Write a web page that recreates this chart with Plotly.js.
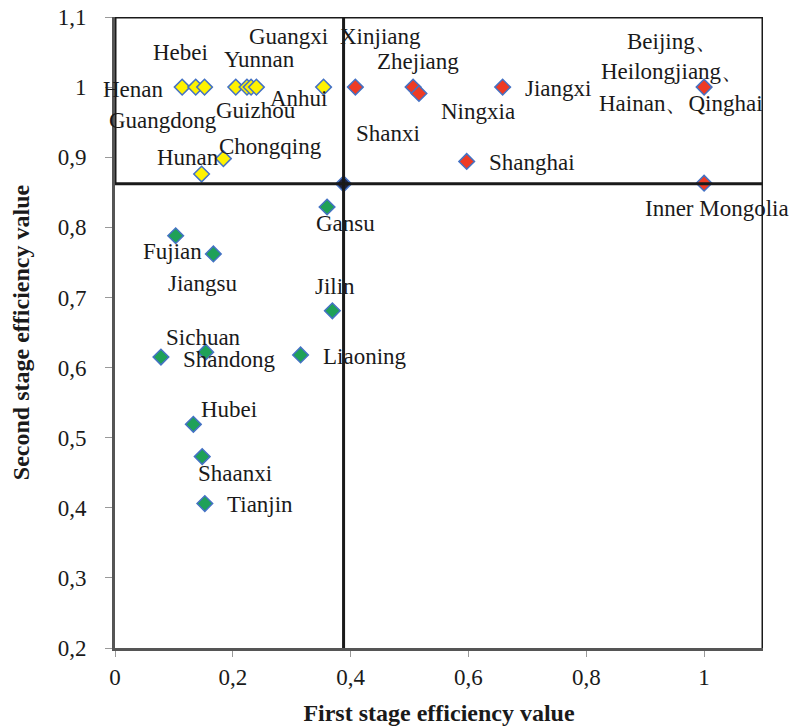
<!DOCTYPE html>
<html>
<head>
<meta charset="utf-8">
<script src="https://cdn.plot.ly/plotly-3.0.1.min.js"></script>
<style>html,body{margin:0;padding:0;background:#fff;}#chart{width:794px;height:726px;}</style>
</head>
<body>
<div id="chart"></div>
<script>
// Yellow group (upper-left quadrant)
const yellowX = [0.114, 0.137, 0.152, 0.205, 0.224, 0.231, 0.240, 0.354, 0.184, 0.147];
const yellowY = [1.0, 1.0, 1.0, 1.0, 1.0, 1.0, 1.0, 1.0, 0.898, 0.876];
// Red group (upper-right quadrant)
const redX = [0.408, 0.506, 0.516, 0.658, 0.597, 1.0, 1.0];
const redY = [1.0, 1.0, 0.991, 1.0, 0.894, 1.0, 0.863];
// Green group (lower-left quadrant)
const greenX = [0.360, 0.103, 0.167, 0.369, 0.078, 0.154, 0.315, 0.133, 0.148, 0.1525];
const greenY = [0.829, 0.788, 0.762, 0.681, 0.615, 0.622, 0.618, 0.519, 0.473, 0.406];
// Mean (quadrant dividing point)
const meanX = [0.388];
const meanY = [0.862];

// Province labels
const labelText = ["Hebei","Yunnan","Guangxi","Xinjiang","Henan","Anhui","Guizhou","Guangdong","Chongqing","Hunan",
  "Shanxi","Zhejiang","Ningxia","Jiangxi","Beijing、","Heilongjiang、","Hainan、Qinghai","Shanghai","Inner Mongolia",
  "Gansu","Fujian","Jiangsu","Jilin","Sichuan","Shandong","Liaoning","Hubei","Shaanxi","Tianjin"];
const labelX = [0.112,0.2446,0.2938,0.450,0.031,0.312,0.240,0.0819,0.264,0.124,
  0.4627,0.515,0.616,0.7525,0.946,0.946,0.9605,0.708,1.0226,
  0.3915,0.0977,0.1486,0.373,0.1497,0.195,0.4237,0.193,0.2034,0.2458];
const labelY = [1.050,1.0387,1.0729,1.0729,0.996,0.9835,0.9673,0.953,0.915,0.900,
  0.9345,1.0363,0.965,0.9983,1.0648,1.022,0.977,0.892,0.827,
  0.8057,0.765,0.720,0.7153,0.643,0.6117,0.6164,0.5404,0.449,0.4053];

const xTickVals = [0, 0.2, 0.4, 0.6, 0.8, 1];
const xTickText = ["0", "0,2", "0,4", "0,6", "0,8", "1"];
const yTickVals = [0.2, 0.3, 0.4, 0.5, 0.6, 0.7, 0.8, 0.9, 1, 1.1];
const yTickText = ["0,2", "0,3", "0,4", "0,5", "0,6", "0,7", "0,8", "0,9", "1", "1,1"];

const xRange = [0, 1.1];
const yRange = [0.2, 1.1];

const outline = '#4472C4';
const mk = (c) => ({symbol: 'diamond', size: 12, color: c, line: {color: outline, width: 1.5}});
const serif = 'Liberation Serif';
const ink = '#1a1a1a';

const traces = [
  {x: yellowX, y: yellowY, type: 'scatter', mode: 'markers', marker: mk('#FFF200'), cliponaxis: false},
  {x: redX, y: redY, type: 'scatter', mode: 'markers', marker: mk('#EE3B24'), cliponaxis: false},
  {x: greenX, y: greenY, type: 'scatter', mode: 'markers', marker: mk('#1FA157'), cliponaxis: false},
  {x: meanX, y: meanY, type: 'scatter', mode: 'markers', marker: mk('#1F2340'), cliponaxis: false}
];

// Labels placed in paper coordinates (converted from data values) so ones near/outside the range still show
const annotations = labelText.map((t, i) => ({
  x: (labelX[i] - xRange[0]) / (xRange[1] - xRange[0]),
  y: (labelY[i] - yRange[0]) / (yRange[1] - yRange[0]),
  xref: 'paper', yref: 'paper', text: t, showarrow: false,
  xanchor: 'center', yanchor: 'middle', font: {family: serif, size: 23, color: ink}
}));

const blk = {color: ink, width: 3};
const shapes = [
  {type: 'line', xref: 'x', yref: 'y', x0: 0, x1: 1.1, y0: 1.1, y1: 1.1, line: blk},
  {type: 'line', xref: 'x', yref: 'y', x0: 1.1, x1: 1.1, y0: 0.2, y1: 1.1, line: blk},
  {type: 'line', xref: 'x', yref: 'y', x0: 0, x1: 0, y0: 0.862, y1: 1.1, line: blk},
  {type: 'line', xref: 'x', yref: 'y', x0: meanX[0], x1: meanX[0], y0: 0.2, y1: 1.1, line: blk},
  {type: 'line', xref: 'x', yref: 'y', x0: 0, x1: 1.1, y0: meanY[0], y1: meanY[0], line: blk}
];

const layout = {
  width: 794, height: 726,
  margin: {l: 115, r: 31, t: 17, b: 78},
  paper_bgcolor: '#fff', plot_bgcolor: '#fff',
  showlegend: false,
  font: {family: serif, size: 23, color: ink},
  xaxis: {
    range: xRange, tickvals: xTickVals, ticktext: xTickText,
    showgrid: false, zeroline: false, showline: true, linecolor: '#555', linewidth: 3,
    ticks: 'outside', ticklen: 6, tickcolor: '#999', tickwidth: 1,
    tickfont: {family: serif, size: 23, color: ink},
    title: {text: '<b>First stage efficiency value</b>', font: {family: serif, size: 24, color: ink}, standoff: 18}
  },
  yaxis: {
    range: yRange, tickvals: yTickVals, ticktext: yTickText,
    showgrid: false, zeroline: false, showline: true, linecolor: '#555', linewidth: 3,
    ticks: 'outside', ticklen: 7, tickcolor: '#999', tickwidth: 1, ticklabelstandoff: 14,
    tickfont: {family: serif, size: 23, color: ink},
    title: {text: '<b>Second stage efficiency value</b>', font: {family: serif, size: 24, color: ink}, standoff: 22}
  },
  shapes: shapes,
  annotations: annotations
};

Plotly.newPlot('chart', traces, layout, {displayModeBar: false, staticPlot: true});
</script>
</body>
</html>
